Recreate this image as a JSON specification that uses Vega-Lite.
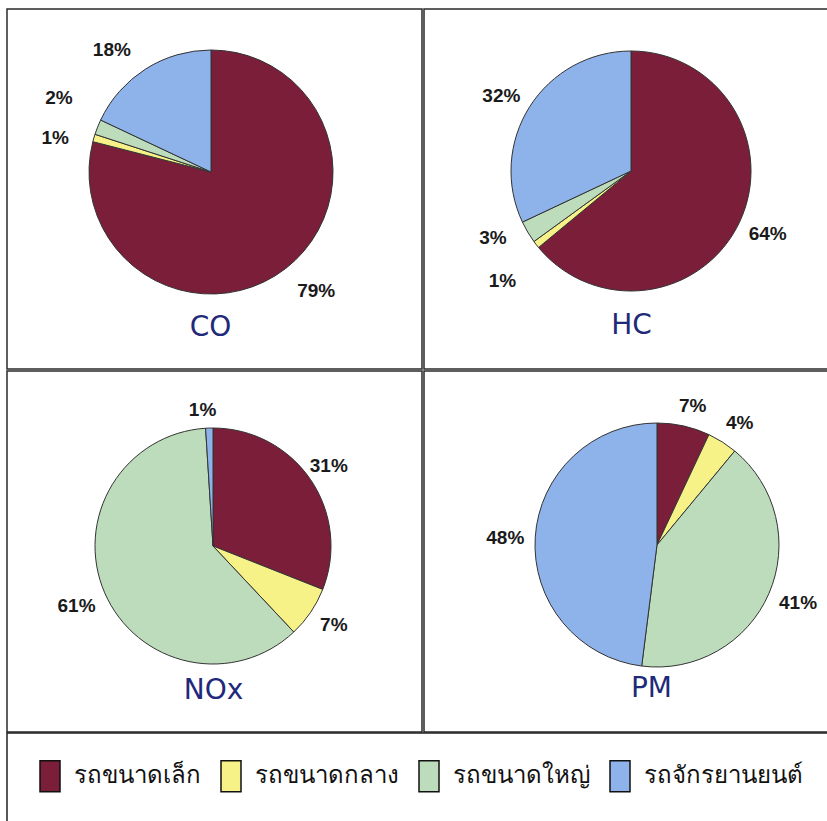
{
  "$schema": "https://vega.github.io/schema/vega-lite/v6.json",
  "background": "white",
  "padding": {"left": 6, "top": 8, "right": 0, "bottom": 0},
  "data": {"values": [
    {"pollutant": "CO", "vehicle": "รถขนาดเล็ก", "k": 1, "share": 0.79},
    {"pollutant": "CO", "vehicle": "รถขนาดกลาง", "k": 2, "share": 0.01},
    {"pollutant": "CO", "vehicle": "รถขนาดใหญ่", "k": 3, "share": 0.02},
    {"pollutant": "CO", "vehicle": "รถจักรยานยนต์", "k": 4, "share": 0.18},
    {"pollutant": "HC", "vehicle": "รถขนาดเล็ก", "k": 1, "share": 0.64},
    {"pollutant": "HC", "vehicle": "รถขนาดกลาง", "k": 2, "share": 0.01},
    {"pollutant": "HC", "vehicle": "รถขนาดใหญ่", "k": 3, "share": 0.03},
    {"pollutant": "HC", "vehicle": "รถจักรยานยนต์", "k": 4, "share": 0.32},
    {"pollutant": "NOx", "vehicle": "รถขนาดเล็ก", "k": 1, "share": 0.31},
    {"pollutant": "NOx", "vehicle": "รถขนาดกลาง", "k": 2, "share": 0.07},
    {"pollutant": "NOx", "vehicle": "รถขนาดใหญ่", "k": 3, "share": 0.61},
    {"pollutant": "NOx", "vehicle": "รถจักรยานยนต์", "k": 4, "share": 0.01},
    {"pollutant": "PM", "vehicle": "รถขนาดเล็ก", "k": 1, "share": 0.07},
    {"pollutant": "PM", "vehicle": "รถขนาดกลาง", "k": 2, "share": 0.04},
    {"pollutant": "PM", "vehicle": "รถขนาดใหญ่", "k": 3, "share": 0.41},
    {"pollutant": "PM", "vehicle": "รถจักรยานยนต์", "k": 4, "share": 0.48}
  ]},
  "columns": 2,
  "spacing": 0,
  "concat": [
    {
      "width": 415, "height": 360,
      "title": {"text": "CO", "orient": "bottom", "offset": -41, "baseline": "middle", "anchor": "middle", "dx": -4},
      "transform": [{"filter": "datum.pollutant === 'CO'"}],
      "encoding": {
        "theta": {"field": "share", "type": "quantitative", "stack": true},
        "order": {"field": "k", "type": "quantitative"},
        "detail": {"field": "vehicle", "type": "nominal"},
        "x": {"datum": 0.4916, "type": "quantitative", "scale": {"domain": [0, 1]}, "axis": null},
        "y": {"datum": 0.5472, "type": "quantitative", "scale": {"domain": [0, 1]}, "axis": null}
      },
      "layer": [
        {"mark": {"type": "arc", "outerRadius": 122, "stroke": "#333", "strokeWidth": 1},
         "encoding": {"color": {"field": "vehicle", "type": "nominal", "scale": {"domain": ["รถขนาดเล็ก", "รถขนาดกลาง", "รถขนาดใหญ่", "รถจักรยานยนต์"], "range": ["#7b1e3a", "#f7f288", "#bcdcbc", "#8eb2ea"]}}}},
        {"mark": {"type": "text", "radius": 157, "dx": 9, "dy": -5},
         "encoding": {"text": {"field": "share", "format": ".0%"}, "opacity": {"condition": {"test": "datum.k == 1", "value": 1}, "value": 0}}},
        {"mark": {"type": "text", "radius": 157, "dx": -5, "dy": 10},
         "encoding": {"text": {"field": "share", "format": ".0%"}, "opacity": {"condition": {"test": "datum.k == 2", "value": 1}, "value": 0}}},
        {"mark": {"type": "text", "radius": 157, "dx": -6, "dy": -16},
         "encoding": {"text": {"field": "share", "format": ".0%"}, "opacity": {"condition": {"test": "datum.k == 3", "value": 1}, "value": 0}}},
        {"mark": {"type": "text", "radius": 157, "dx": -15, "dy": 11},
         "encoding": {"text": {"field": "share", "format": ".0%"}, "opacity": {"condition": {"test": "datum.k == 4", "value": 1}, "value": 0}}}
      ]
    },
    {
      "width": 415, "height": 360,
      "title": {"text": "HC", "orient": "bottom", "offset": -43, "baseline": "middle", "anchor": "middle", "dx": 0},
      "transform": [{"filter": "datum.pollutant === 'HC'"}],
      "encoding": {
        "theta": {"field": "share", "type": "quantitative", "stack": true},
        "order": {"field": "k", "type": "quantitative"},
        "detail": {"field": "vehicle", "type": "nominal"},
        "x": {"datum": 0.4988, "type": "quantitative", "scale": {"domain": [0, 1]}, "axis": null},
        "y": {"datum": 0.55, "type": "quantitative", "scale": {"domain": [0, 1]}, "axis": null}
      },
      "layer": [
        {"mark": {"type": "arc", "outerRadius": 120, "stroke": "#333", "strokeWidth": 1},
         "encoding": {"color": {"field": "vehicle", "type": "nominal"}}},
        {"mark": {"type": "text", "radius": 150, "dx": 1, "dy": -1},
         "encoding": {"text": {"field": "share", "format": ".0%"}, "opacity": {"condition": {"test": "datum.k == 1", "value": 1}, "value": 0}}},
        {"mark": {"type": "text", "radius": 150, "dx": -10, "dy": 18},
         "encoding": {"text": {"field": "share", "format": ".0%"}, "opacity": {"condition": {"test": "datum.k == 2", "value": 1}, "value": 0}}},
        {"mark": {"type": "text", "radius": 150, "dx": -9, "dy": -9},
         "encoding": {"text": {"field": "share", "format": ".0%"}, "opacity": {"condition": {"test": "datum.k == 3", "value": 1}, "value": 0}}},
        {"mark": {"type": "text", "radius": 150, "dx": -3, "dy": 5},
         "encoding": {"text": {"field": "share", "format": ".0%"}, "opacity": {"condition": {"test": "datum.k == 4", "value": 1}, "value": 0}}}
      ]
    },
    {
      "width": 415, "height": 361,
      "title": {"text": "NOx", "orient": "bottom", "offset": -41, "baseline": "middle", "anchor": "middle", "dx": -1},
      "transform": [{"filter": "datum.pollutant === 'NOx'"}],
      "encoding": {
        "theta": {"field": "share", "type": "quantitative", "stack": true},
        "order": {"field": "k", "type": "quantitative"},
        "detail": {"field": "vehicle", "type": "nominal"},
        "x": {"datum": 0.4964, "type": "quantitative", "scale": {"domain": [0, 1]}, "axis": null},
        "y": {"datum": 0.5152, "type": "quantitative", "scale": {"domain": [0, 1]}, "axis": null}
      },
      "layer": [
        {"mark": {"type": "arc", "outerRadius": 118, "stroke": "#333", "strokeWidth": 1},
         "encoding": {"color": {"field": "vehicle", "type": "nominal"}}},
        {"mark": {"type": "text", "radius": 140, "dx": 0, "dy": -1},
         "encoding": {"text": {"field": "share", "format": ".0%"}, "opacity": {"condition": {"test": "datum.k == 1", "value": 1}, "value": 0}}},
        {"mark": {"type": "text", "radius": 140, "dx": 5, "dy": 0},
         "encoding": {"text": {"field": "share", "format": ".0%"}, "opacity": {"condition": {"test": "datum.k == 2", "value": 1}, "value": 0}}},
        {"mark": {"type": "text", "radius": 140, "dx": -8, "dy": 4},
         "encoding": {"text": {"field": "share", "format": ".0%"}, "opacity": {"condition": {"test": "datum.k == 3", "value": 1}, "value": 0}}},
        {"mark": {"type": "text", "radius": 140, "dx": -6, "dy": 4},
         "encoding": {"text": {"field": "share", "format": ".0%"}, "opacity": {"condition": {"test": "datum.k == 4", "value": 1}, "value": 0}}}
      ]
    },
    {
      "width": 415, "height": 361,
      "title": {"text": "PM", "orient": "bottom", "offset": -43, "baseline": "middle", "anchor": "middle", "dx": 20},
      "transform": [{"filter": "datum.pollutant === 'PM'"}],
      "encoding": {
        "theta": {"field": "share", "type": "quantitative", "stack": true},
        "order": {"field": "k", "type": "quantitative"},
        "detail": {"field": "vehicle", "type": "nominal"},
        "x": {"datum": 0.5614, "type": "quantitative", "scale": {"domain": [0, 1]}, "axis": null},
        "y": {"datum": 0.518, "type": "quantitative", "scale": {"domain": [0, 1]}, "axis": null}
      },
      "layer": [
        {"mark": {"type": "arc", "outerRadius": 122, "stroke": "#333", "strokeWidth": 1},
         "encoding": {"color": {"field": "vehicle", "type": "nominal"}}},
        {"mark": {"type": "text", "radius": 145, "dx": 4, "dy": 3},
         "encoding": {"text": {"field": "share", "format": ".0%"}, "opacity": {"condition": {"test": "datum.k == 1", "value": 1}, "value": 0}}},
        {"mark": {"type": "text", "radius": 145, "dx": 5, "dy": 0},
         "encoding": {"text": {"field": "share", "format": ".0%"}, "opacity": {"condition": {"test": "datum.k == 2", "value": 1}, "value": 0}}},
        {"mark": {"type": "text", "radius": 145, "dx": 8, "dy": 0},
         "encoding": {"text": {"field": "share", "format": ".0%"}, "opacity": {"condition": {"test": "datum.k == 3", "value": 1}, "value": 0}}},
        {"mark": {"type": "text", "radius": 145, "dx": -7, "dy": 2},
         "encoding": {"text": {"field": "share", "format": ".0%"}, "opacity": {"condition": {"test": "datum.k == 4", "value": 1}, "value": 0}}}
      ]
    }
  ],
  "resolve": {"scale": {"color": "shared"}},
  "config": {
    "view": {"stroke": "#2a2a2a", "strokeWidth": 1.5},
    "text": {"font": "Liberation Sans", "fontWeight": "bold", "fontSize": 19, "fill": "#1a1a1a", "baseline": "middle", "align": "center"},
    "title": {"font": "DejaVu Sans", "fontSize": 28, "fontWeight": "normal", "color": "#1f2a7a"},
    "legend": {
      "orient": "bottom",
      "direction": "horizontal",
      "title": null,
      "symbolType": "M-1,-1.55H1V1.55H-1Z",
      "symbolSize": 400,
      "symbolStrokeColor": "#111",
      "symbolStrokeWidth": 1.5,
      "symbolOpacity": 1,
      "labelFontSize": 24,
      "labelColor": "#111",
      "labelLimit": 400,
      "labelOffset": 12,
      "columnPadding": 17,
      "strokeColor": "#222",
      "strokeWidth": 1.5,
      "padding": 31,
      "offset": 0
    }
  }
}
